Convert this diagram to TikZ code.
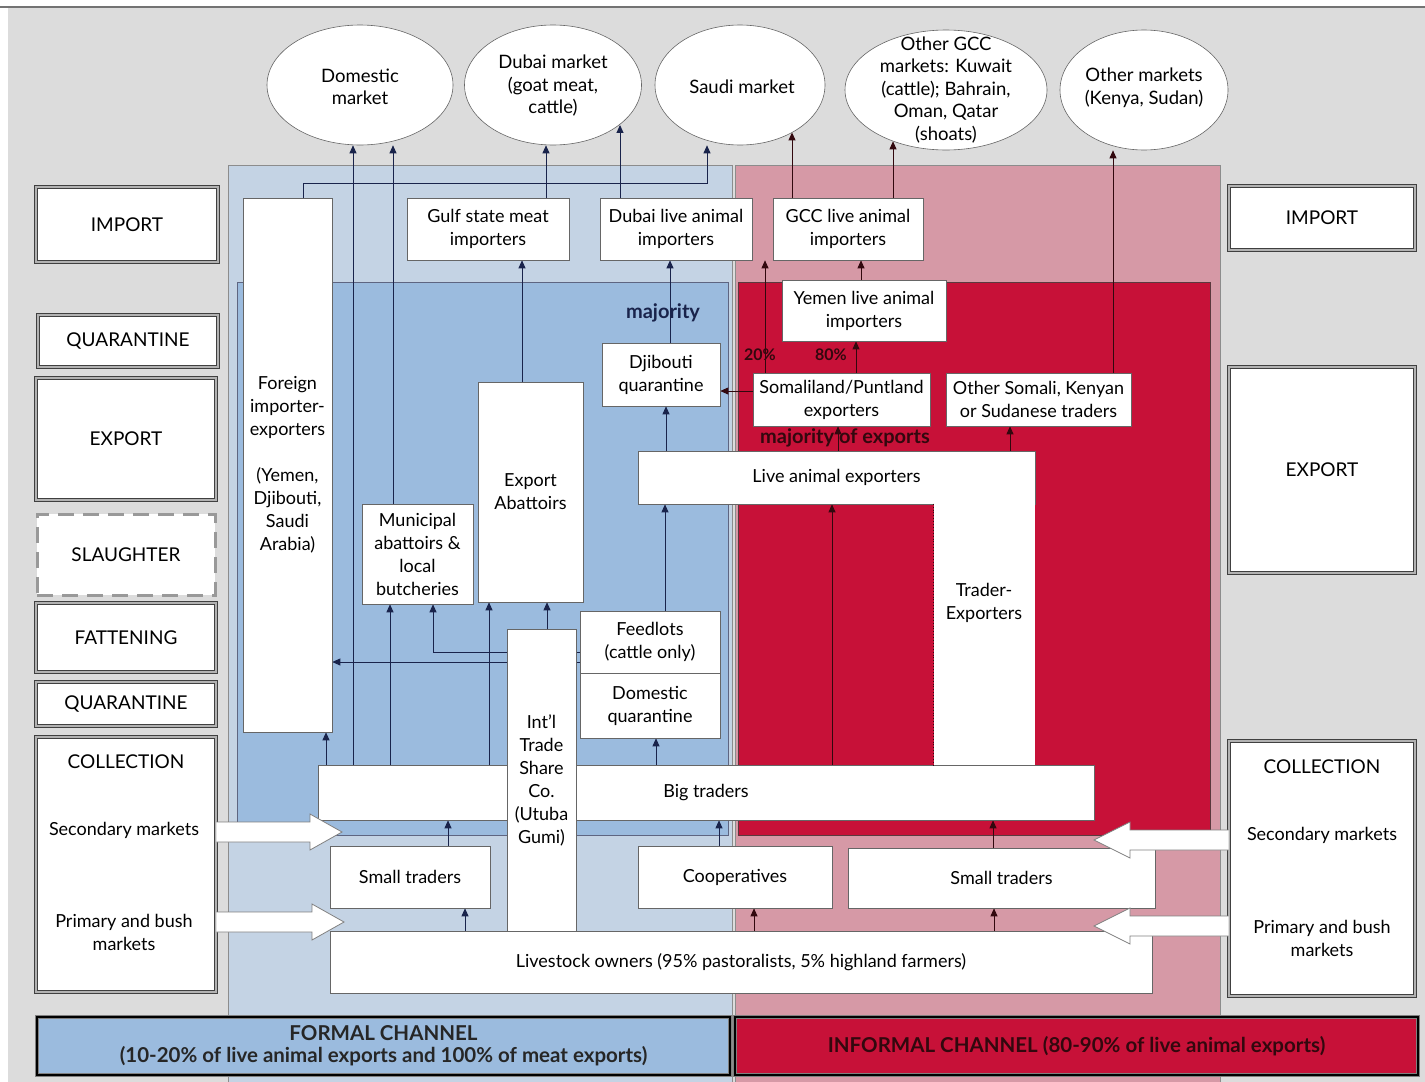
\documentclass[tikz,border=0pt]{standalone}
\usepackage{fontspec}
\setmainfont{Lato}
\usetikzlibrary{arrows.meta,shapes.geometric}
\definecolor{bgG}{RGB}{220,220,220}
\definecolor{fOut}{RGB}{196,211,228}
\definecolor{fIn}{RGB}{155,187,222}
\definecolor{iOut}{RGB}{214,153,166}
\definecolor{iIn}{RGB}{199,17,56}
\definecolor{navyL}{RGB}{25,35,75}
\definecolor{darkR}{RGB}{50,8,14}
\pgfdeclarelayer{bg}
\pgfdeclarelayer{lines}
\pgfsetlayers{bg,lines,main}
\begin{document}
\begin{tikzpicture}[x=1pt,y=-1pt,
  box/.style={draw=black!60, fill=white, line width=0.6pt, inner sep=2pt, align=center, font=\fontsize{18}{23}\selectfont},
  btxt/.style={align=center, inner sep=0pt, font=\fontsize{18}{23}\selectfont},
  mkt/.style={ellipse, draw=black!60, fill=white, line width=0.6pt, inner sep=0pt},
  mtxt/.style={align=center, inner sep=0pt, font=\fontsize{18.5}{22.5}\selectfont},
  lab/.style={draw=black!75, double=black!30, double distance=1.8pt, line width=0.7pt, fill=white, align=center, inner sep=0pt, font=\fontsize{19}{22}\selectfont},
  slab/.style={draw=black!40, line width=3pt, dash pattern=on 16pt off 9pt, fill=white, align=center, inner sep=0pt, font=\fontsize{19}{22}\selectfont},
  ltxt/.style={align=center, inner sep=0pt, font=\fontsize{18}{23}\selectfont},
  chan/.style={draw=black!50, double=black, double distance=2.5pt, line width=1pt, align=center, inner sep=0pt, font=\bfseries\fontsize{20.5}{22}\selectfont},
  arrB/.style={draw=navyL, line width=0.9pt, -{Triangle[length=8pt,width=7pt]}},
  arrR/.style={draw=darkR, line width=0.9pt, -{Triangle[length=8pt,width=7pt]}},
  blk/.style={fill=white, draw=black!50, line width=0.8pt},
  note/.style={inner sep=0pt, font=\bfseries\fontsize{20}{22}\selectfont}
]
\useasboundingbox (0,0) rectangle (1425,1082);
\begin{pgfonlayer}{bg}
  \fill[white] (0,0) rectangle (1425,1082);
  \fill[bgG] (8,8) rectangle (1425,1082);
  \draw[black!55, line width=2pt] (0,7) -- (1425,7);
  \filldraw[fill=fOut, draw=black!45, line width=0.6pt] (228,165) rectangle (732,1090);
  \filldraw[fill=iOut, draw=black!45, line width=0.6pt] (735,165) rectangle (1220,1090);
  \filldraw[fill=fIn, draw=navyL!70, line width=0.6pt] (237,282) rectangle (728,835);
  \filldraw[fill=iIn, draw=darkR!80, line width=0.6pt] (738,282) rectangle (1210,835);
\end{pgfonlayer}

% markets
\node[mkt, minimum width=186pt, minimum height=120pt] (dom) at (360,85) {};
\node[mtxt] (domT) at (360,87) {Domestic\\market};
\node[mkt, minimum width=177pt, minimum height=120pt] (dub) at (553,85) {};
\node[mtxt] (dubT) at (553,86) {Dubai market\\(goat meat,\\cattle)};
\node[mkt, minimum width=170pt, minimum height=120pt] (sau) at (740,85) {};
\node[mtxt] (sauT) at (742,87) {Saudi market};
\node[mkt, minimum width=202pt, minimum height=120pt] (ogcc) at (946,90) {};
\node[mtxt] (ogccT) at (946,90) {Other GCC\\markets: Kuwait\\(cattle); Bahrain,\\Oman, Qatar\\(shoats)};
\node[mkt, minimum width=168pt, minimum height=120pt] (oth) at (1144,90) {};
\node[mtxt] (othT) at (1144,88) {Other markets\\(Kenya, Sudan)};

% left stage labels
\node[lab, minimum width=182pt, minimum height=75pt] (impL) at (127,224.5) {IMPORT};
\node[lab, minimum width=180pt, minimum height=52pt] (quaL1) at (128,341) {QUARANTINE};
\node[lab, minimum width=180pt, minimum height=122pt] (expL) at (126,439) {EXPORT};
\node[slab, minimum width=178pt, minimum height=81pt] (slaL) at (126,554.5) {SLAUGHTER};
\node[lab, minimum width=180pt, minimum height=69pt] (fatL) at (126,637.5) {FATTENING};
\node[lab, minimum width=180pt, minimum height=44pt] (quaL2) at (126,704) {QUARANTINE};
\node[lab, minimum width=180pt, minimum height=255pt] (colL) at (126,864.5) {};
\node[ltxt, font=\fontsize{19}{22}\selectfont] (colLT) at (126,762) {COLLECTION};
\node[ltxt] (secL) at (124,830) {Secondary markets};
\node[ltxt] (priL) at (124,932.5) {Primary and bush\\markets};

% right stage labels
\node[lab, minimum width=186pt, minimum height=64pt] (impR) at (1322,218) {IMPORT};
\node[lab, minimum width=186pt, minimum height=206pt] (expR) at (1322,470) {EXPORT};
\node[lab, minimum width=186pt, minimum height=255pt] (colR) at (1322,868.5) {};
\node[ltxt, font=\fontsize{19}{22}\selectfont] (colRT) at (1322,767) {COLLECTION};
\node[ltxt] (secR) at (1322,835) {Secondary markets};
\node[ltxt] (priR) at (1322,938.5) {Primary and bush\\markets};

% boxes
\node[box, minimum width=89pt, minimum height=534pt] (foreign) at (287.5,465) {Foreign\\importer-\\exporters\\[23pt](Yemen,\\Djibouti,\\Saudi\\Arabia)};
\node[box, minimum width=162pt, minimum height=62pt] (gulf) at (488,229) {Gulf state meat\\importers};
\node[box, minimum width=152pt, minimum height=62pt] (dubaiImp) at (676,229) {Dubai live animal\\importers};
\node[box, minimum width=150pt, minimum height=62pt] (gccImp) at (848,229) {GCC live animal\\importers};
\node[box, minimum width=164pt, minimum height=61pt] (yemen) at (864,310.5) {Yemen live animal\\importers};
\node[box, minimum width=118pt, minimum height=63pt] (djq) at (661,374.5) {Djibouti\\quarantine};
\node[box, minimum width=177pt, minimum height=53pt] (soma) at (841.5,399.5) {Somaliland/Puntland\\exporters};
\node[box, minimum width=185pt, minimum height=53pt] (othSom) at (1038.5,399.5) {Other Somali, Kenyan\\or Sudanese traders};
\node[box, minimum width=397pt, minimum height=53pt] (liveExp) at (836.5,477.5) {Live animal exporters};
\node[box, draw=none, minimum width=101pt, minimum height=261pt] (trex) at (984.5,634.5) {};
\node[btxt] (trexT) at (984,603) {Trader-\\Exporters};
\node[box, minimum width=105pt, minimum height=220pt] (expAb) at (530.5,492) {Export\\Abattoirs};
\node[box, minimum width=111pt, minimum height=100pt] (munAb) at (417.5,554) {Municipal\\abattoirs \&\\local\\butcheries};
\node[box, minimum width=140pt, minimum height=62pt] (feed) at (650,642) {Feedlots\\(cattle only)};
\node[box, minimum width=140pt, minimum height=65pt] (domq) at (650,705.5) {Domestic\\quarantine};
\node[box, minimum width=776pt, minimum height=55pt] (big) at (706,792.5) {};
\node[btxt] (bigT) at (706,793) {Big traders};
\node[box, minimum width=69pt, minimum height=302pt] (intl) at (541.5,780) {Int’l\\Trade\\Share\\Co.\\(Utuba\\Gumi)};
\node[box, minimum width=160pt, minimum height=62pt] (smallL) at (410,877) {Small traders};
\node[box, minimum width=194pt, minimum height=62pt] (coop) at (735,877) {Cooperatives};
\node[box, minimum width=307pt, minimum height=60pt] (smallR) at (1001.5,878) {Small traders};
\node[box, minimum width=822pt, minimum height=62pt] (owners) at (741,962) {Livestock owners (95\% pastoralists, 5\% highland farmers)};
\draw[darkR, dotted, line width=0.9pt] (trex.north west) -- (trex.south west);

% connectors
\begin{pgfonlayer}{lines}
  \draw[arrB] ([xshift=15.5pt]foreign.north) -- ++(0,-14) -| (sau.south -| 707,0);
  \draw[arrB] (big.north -| 353,0) -- (dom.south -| 353,0);
  \draw[arrB] (munAb.north -| 393,0) -- (dom.south -| 393,0);
  \draw[arrB] (gulf.north -| 546,0) -- (dub.south -| 546,0);
  \draw[arrB] (expAb.north -| 522,0) -- (gulf.south -| 522,0);
  \draw[arrB] (dubaiImp.north -| 620,0) -- (dub.-31 -| 620,0);
  \draw[arrB] (djq.north -| 670,0) -- (dubaiImp.south -| 670,0);
  \draw[arrR] (gccImp.north -| 792,0) -- (sau.-42 -| 792,0);
  \draw[arrR] (gccImp.north -| 893,0) -- (ogcc.-136 -| 893,0);
  \draw[arrR] (othSom.north -| 1113,0) -- (oth.south -| 1113,0);
  \draw[arrR] (yemen.north -| 861,0) -- (gccImp.south -| 861,0);
  \draw[arrR] (soma.north -| 856,0) -- (yemen.south -| 856,0);
  \draw[arrR] (soma.north -| 765,0) -- (gccImp.south -| 765,0);
  \draw[arrR] (soma.west |- 0,391) -- (djq.east |- 0,391);
  \draw[arrR] (liveExp.north -| 838,0) -- (soma.south -| 838,0);
  \draw[arrR] (liveExp.north -| 1010,0) -- (othSom.south -| 1010,0);
  \draw[arrB] (liveExp.north -| 666,0) -- (djq.south -| 666,0);
  \draw[arrB] (feed.north -| 665,0) -- (liveExp.south -| 665,0);
  \draw[arrR] (big.north -| 832,0) -- (liveExp.south -| 832,0);
  \draw[arrB] (intl.north -| 547,0) -- (expAb.south -| 547,0);
  \draw[arrB] (big.north -| 489,0) -- (expAb.south -| 489,0);
  \draw[arrB] (big.north -| 390,0) -- (munAb.south -| 390,0);
  \draw[arrB] (feed.west |- 0,652) -| (munAb.south -| 433,0);
  \draw[arrB] (feed.west |- 0,662) -- (foreign.east |- 0,662);
  \draw[arrB] (big.north -| 326,0) -- (foreign.south -| 326,0);
  \draw[arrB] (big.north -| 656,0) -- (domq.south -| 656,0);
  \draw[arrB] (smallL.north -| 448,0) -- (big.south -| 448,0);
  \draw[arrB] (owners.north -| 465,0) -- (smallL.south -| 465,0);
  \draw[arrR] (owners.north -| 754,0) -- (coop.south -| 754,0);
  \draw[arrR] (owners.north -| 994,0) -- (smallR.south -| 994,0);
  \draw[arrR] (smallR.north -| 993,0) -- (big.south -| 993,0);
  \draw[arrB] (coop.north -| 719,0) -- (big.south -| 719,0);
\end{pgfonlayer}

% notes
\node[note, text=navyL] (majL) at (663,313) {majority};
\node[note, text=darkR] (majX) at (845,438) {majority of exports};
\node[note, text=darkR, font=\bfseries\fontsize{16}{20}\selectfont] (p20) at (760,355) {20\%};
\node[note, text=darkR, font=\bfseries\fontsize{16}{20}\selectfont] (p80) at (831,355) {80\%};

% block arrows
\draw[blk] (colL.east |- 0,822) -- (310,822) -- (310,814) -- (342,832) -- (310,850) -- (310,842) -- (colL.east |- 0,842);
\draw[blk] (colL.east |- 0,912) -- (312,912) -- (312,904) -- (344,922) -- (312,940) -- (312,932) -- (colL.east |- 0,932);
\draw[blk] (colR.west |- 0,830) -- (1130,830) -- (1130,822) -- (1094,840) -- (1130,858) -- (1130,850) -- (colR.west |- 0,850);
\draw[blk] (colR.west |- 0,916) -- (1130,916) -- (1130,908) -- (1094,926) -- (1130,944) -- (1130,936) -- (colR.west |- 0,936);

% channels
\node[chan, fill=fIn, text=black!85, minimum width=693pt, minimum height=58pt] (formal) at (383.5,1046) {FORMAL CHANNEL\\(10-20\% of live animal exports and 100\% of meat exports)};
\node[chan, fill=iIn, text=darkR, minimum width=683pt, minimum height=58pt] (informal) at (1076.5,1046) {INFORMAL CHANNEL (80-90\% of live animal exports)};
\end{tikzpicture}
\end{document}
